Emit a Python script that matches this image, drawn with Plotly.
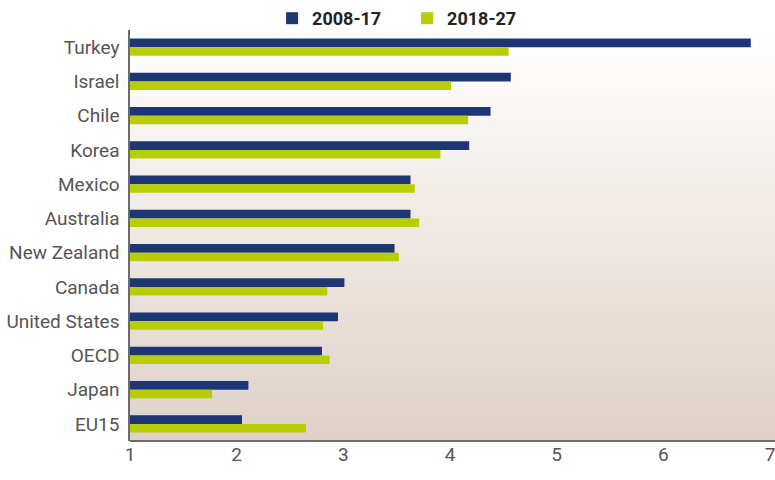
import plotly.graph_objects as go

# Average annual growth, by period
countries = ["Turkey", "Israel", "Chile", "Korea", "Mexico", "Australia",
             "New Zealand", "Canada", "United States", "OECD", "Japan", "EU15"]
growth_2008_17 = [6.82, 4.57, 4.38, 4.18, 3.63, 3.63, 3.48, 3.01, 2.95, 2.80, 2.11, 2.05]
growth_2018_27 = [4.55, 4.01, 4.17, 3.91, 3.67, 3.71, 3.52, 2.85, 2.81, 2.87, 1.77, 2.65]
x_ticks = [1, 2, 3, 4, 5, 6, 7]

NAVY = "#1d3675"
LIME = "#b9cd05"
FONT = "Liberation Sans Narrow, Roboto, Arial, sans-serif"

fig = go.Figure()
fig.add_trace(go.Bar(y=countries, x=growth_2008_17, orientation="h",
                     name="2008-17", marker=dict(color=NAVY, line_width=0)))
fig.add_trace(go.Bar(y=countries, x=growth_2018_27, orientation="h",
                     name="2018-27", marker=dict(color=LIME, line_width=0)))

# Vertical white-to-beige gradient behind the plot area (runs to the right edge).
# Each band reaches down to the bottom, so later bands cover earlier ones without seams.
top = (255, 255, 255)
bottom = (222, 209, 199)
n = 60
x_end = 1 + 5 / 640
shapes = []
for i in range(n):
    t = i / (n - 1)
    c = tuple(round(top[k] + (bottom[k] - top[k]) * t) for k in range(3))
    shapes.append(dict(type="rect", xref="paper", yref="paper",
                       x0=0, x1=x_end, y0=0, y1=1 - i / n,
                       fillcolor="rgb(%d,%d,%d)" % c, line_width=0, layer="below"))
# Bottom axis rule carried through to the edge
shapes.append(dict(type="line", xref="paper", yref="paper", x0=0, x1=x_end + 0.01,
                   y0=0, y1=0, line=dict(color="#6b6b6b", width=2)))

fig.update_layout(
    width=775, height=480,
    margin=dict(l=130, r=5, t=30, b=39, autoexpand=False),
    paper_bgcolor="white", plot_bgcolor="rgba(0,0,0,0)",
    barmode="group", bargap=0.5, bargroupgap=0,
    shapes=shapes,
    font=dict(family=FONT, color="#555555", size=19),
    legend=dict(orientation="h", x=0.222, y=1.0, xanchor="left", yanchor="top",
                yref="container",
                font=dict(family=FONT, size=18, color="#222222", weight="bold"),
                entrywidth=90, entrywidthmode="pixels",
                itemwidth=30, tracegroupgap=0, bgcolor="rgba(0,0,0,0)"),
    showlegend=True,
)
fig.update_xaxes(range=[1, 7], tickvals=x_ticks, showgrid=False, zeroline=False,
                 showline=False, ticks="", ticklabeloverflow="allow",
                 tickfont=dict(size=19, color="#555555"))
fig.update_yaxes(autorange="reversed", showgrid=False, showline=True,
                 linecolor="#6b6b6b", linewidth=2, ticks="",
                 ticksuffix=" ", tickfont=dict(size=19, color="#555555"))

fig.write_html("out.html")
